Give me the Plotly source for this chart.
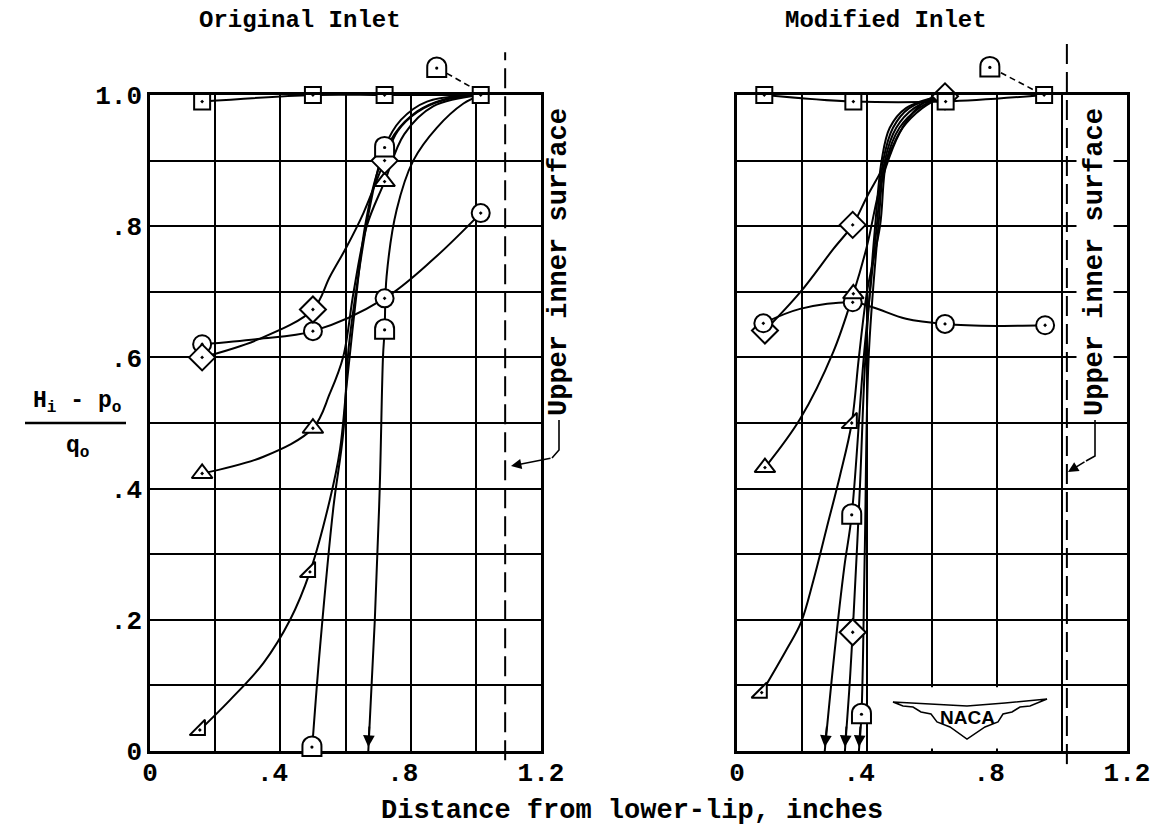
import plotly.graph_objects as go

# ---------------- data ----------------
# Original inlet (left panel) - plotted test points
L_SQ_X = [0.16, 0.50, 0.72, 1.015]
L_SQ_Y = [0.99, 1.00, 1.00, 1.00]
L_CI_X = [0.16, 0.50, 0.72, 1.015]
L_CI_Y = [0.62, 0.64, 0.69, 0.82]
L_DI_X = [0.16, 0.50, 0.72]
L_DI_Y = [0.60, 0.673, 0.90]
L_TR_X = [0.16, 0.50, 0.72]
L_TR_Y = [0.423, 0.492, 0.868]
L_TF_X = [0.153, 0.491]
L_TF_Y = [0.032, 0.273]
L_D_X = [0.497, 0.72, 0.72]
L_D_Y = [0.006, 0.92, 0.642]

# Original inlet - faired curves
L_SQ_CX = [0.16, 0.50, 0.72, 1.015]
L_SQ_CY = [0.99, 1.00, 1.00, 1.00]
L_CI_CX = [0.16, 0.33, 0.50, 0.72, 0.87, 1.015]
L_CI_CY = [0.62, 0.628, 0.64, 0.69, 0.75, 0.82]
L_DI_CX = [0.16, 0.33, 0.50, 0.552, 0.604, 0.655, 0.72, 0.76, 0.82, 0.90, 1.015]
L_DI_CY = [0.60, 0.627, 0.673, 0.723, 0.769, 0.82, 0.90, 0.945, 0.974, 0.992, 1.0]
L_TR_CX = [0.16, 0.35, 0.50, 0.552, 0.593, 0.625, 0.665, 0.72, 0.78, 0.87, 1.015]
L_TR_CY = [0.423, 0.449, 0.492, 0.545, 0.601, 0.70, 0.80, 0.868, 0.94, 0.983, 1.0]
L_TF_CX = [0.153, 0.246, 0.348, 0.43, 0.491, 0.552, 0.583, 0.604, 0.63, 0.66, 0.70, 0.75, 0.82, 0.90, 1.015]
L_TF_CY = [0.032, 0.078, 0.134, 0.20, 0.273, 0.383, 0.459, 0.56, 0.68, 0.80, 0.885, 0.94, 0.975, 0.993, 1.0]
L_D1_CX = [0.50, 0.522, 0.563, 0.593, 0.609, 0.638, 0.675, 0.72, 0.77, 0.85, 1.015]
L_D1_CY = [0.02, 0.159, 0.372, 0.484, 0.611, 0.72, 0.83, 0.92, 0.962, 0.99, 1.0]
L_D2_CX = [0.67, 0.69, 0.705, 0.715, 0.72, 0.726, 0.757, 0.808, 0.88, 0.962, 1.015]
L_D2_CY = [0.0, 0.20, 0.40, 0.60, 0.642, 0.723, 0.825, 0.90, 0.95, 0.987, 1.0]
L_DNOTE_X = [0.88, 0.911, 0.982]
L_DNOTE_Y = [1.041, 1.033, 1.013]
L_SURFACE_X = 1.09

# Modified inlet (right panel) - plotted test points
R_SQ_X = [0.084, 0.358, 0.642, 0.945]
R_SQ_Y = [1.00, 0.99, 0.99, 1.00]
R_CI_X = [0.081, 0.356, 0.64, 0.948]
R_CI_Y = [0.652, 0.684, 0.651, 0.649]
R_DI_X = [0.086, 0.356, 0.64, 0.356]
R_DI_Y = [0.641, 0.802, 0.998, 0.181]
R_TR_X = [0.086, 0.358]
R_TR_Y = [0.432, 0.697]
R_TF_X = [0.076, 0.353]
R_TF_Y = [0.089, 0.50]
R_D_X = [0.353, 0.383]
R_D_Y = [0.36, 0.056]

# Modified inlet - faired curves
R_SQ_CX = [0.084, 0.358, 0.642, 0.945]
R_SQ_CY = [1.00, 0.99, 0.99, 1.00]
R_CI_CX = [0.081, 0.194, 0.356, 0.42, 0.52, 0.64, 0.80, 0.948]
R_CI_CY = [0.652, 0.674, 0.684, 0.676, 0.659, 0.651, 0.648, 0.649]
R_DI_CX = [0.086, 0.194, 0.296, 0.356, 0.40, 0.45, 0.50, 0.552, 0.60, 0.64]
R_DI_CY = [0.641, 0.699, 0.765, 0.802, 0.845, 0.89, 0.943, 0.979, 0.996, 1.0]
R_TR_CX = [0.086, 0.194, 0.296, 0.358, 0.40, 0.435, 0.465, 0.51, 0.57, 0.64]
R_TR_CY = [0.432, 0.506, 0.608, 0.697, 0.77, 0.85, 0.90, 0.95, 0.98, 1.0]
R_TF_CX = [0.076, 0.153, 0.197, 0.235, 0.276, 0.317, 0.353, 0.375, 0.40, 0.44, 0.46, 0.50, 0.56, 0.64]
R_TF_CY = [0.089, 0.155, 0.196, 0.26, 0.34, 0.42, 0.50, 0.60, 0.70, 0.80, 0.90, 0.95, 0.98, 1.0]
R_DB_CX = [0.332, 0.345, 0.356, 0.378, 0.395, 0.425, 0.445, 0.47, 0.52, 0.64]
R_DB_CY = [0.0, 0.09, 0.181, 0.40, 0.60, 0.80, 0.90, 0.95, 0.98, 1.0]
R_D1_CX = [0.27, 0.30, 0.33, 0.353, 0.39, 0.43, 0.45, 0.48, 0.53, 0.64]
R_D1_CY = [0.0, 0.15, 0.28, 0.36, 0.60, 0.80, 0.90, 0.95, 0.98, 1.0]
R_D2_CX = [0.375, 0.383, 0.393, 0.405, 0.435, 0.455, 0.49, 0.545, 0.64]
R_D2_CY = [0.0, 0.056, 0.30, 0.60, 0.80, 0.90, 0.95, 0.98, 1.0]
R_DNOTE_X = [0.778, 0.812, 0.912]
R_DNOTE_Y = [1.042, 1.034, 1.008]
R_SURFACE_X = 1.015

X_TICKS = [0, 0.2, 0.4, 0.6, 0.8, 1.0, 1.2]
X_TEXT = ["0", "", ".4\u00a0", "", ".8\u00a0", "", "1.2"]
Y_TICKS = [0, 0.1, 0.2, 0.3, 0.4, 0.5, 0.6, 0.7, 0.8, 0.9, 1.0]
Y_TEXT = ["0", "", ".2", "", ".4", "", ".6", "", ".8", "", "1.0"]

# ---------------- geometry helpers ----------------
W, H = 1163, 831
ML, MR, MT, MB = 150, 36, 95, 80
PW = W - ML - MR
PH = H - MT - MB
PANEL_PX = [(150, 541), (737, 1127)]
XMAX = 1.2


def px_x(panel, x):
    a, b = PANEL_PX[panel]
    return a + x * (b - a) / XMAX


def pap_x(panel, x):
    return (px_x(panel, x) - ML) / PW


def pix2pap(xp, yp):
    return (xp - ML) / PW, (H - MB - yp) / PH


FONT = "Liberation Mono"
INK = "black"

fig = go.Figure()
axes = [("x", "y"), ("x2", "y2")]


def curve(panel, xs, ys, width=2.0):
    xa, ya = axes[panel]
    fig.add_trace(go.Scatter(x=xs, y=ys, mode="lines", xaxis=xa, yaxis=ya,
                             line=dict(color=INK, width=width, shape="spline", smoothing=1.0),
                             hoverinfo="skip", cliponaxis=False))


def marks(panel, xs, ys, symbol, size):
    xa, ya = axes[panel]
    fig.add_trace(go.Scatter(x=xs, y=ys, mode="markers", xaxis=xa, yaxis=ya,
                             marker=dict(symbol=symbol, size=size, color="white",
                                         line=dict(color=INK, width=2)),
                             hoverinfo="skip", cliponaxis=False))


shapes = []
annotations = []


def text_at(xp, yp, text, size, family=FONT, angle=0, bg=None):
    a, b = pix2pap(xp, yp)
    d = dict(x=a, y=b, xref="paper", yref="paper", text=text, showarrow=False,
             xanchor="center", yanchor="middle", textangle=angle,
             font=dict(family=family, size=size, color=INK, weight="bold"))
    if bg:
        d["bgcolor"] = bg
        d["borderpad"] = 3
    annotations.append(d)


def dome(panel, x, y):
    cx = pap_x(panel, x)
    hw = 9.5 / PW
    yb = y - 9 / PH
    ym = y + 1 / PH
    c = (4.0 / 3.0) * 9.5 / PH
    p = (f"M{cx-hw},{yb} L{cx-hw},{ym} C{cx-hw},{ym+c} {cx+hw},{ym+c} {cx+hw},{ym} "
         f"L{cx+hw},{yb} Z")
    shapes.append(dict(type="path", path=p, xref="paper", yref="paper",
                       fillcolor="white", line=dict(color=INK, width=2), layer="above"))
    r = 1.6
    shapes.append(dict(type="circle", xref="paper", yref="paper",
                       x0=cx - r / PW, x1=cx + r / PW, y0=y - r / PH, y1=y + r / PH,
                       fillcolor=INK, line=dict(color=INK, width=0), layer="above"))


def arrow_down(panel, xs, ys):
    xa, ya = axes[panel]
    kx = (PANEL_PX[panel][1] - PANEL_PX[panel][0]) / XMAX
    dx = (xs[1] - xs[0]) * kx
    dy = (ys[1] - ys[0]) * PH
    L = (dx * dx + dy * dy) ** 0.5
    annotations.append(dict(x=xs[0], y=ys[0] + 0.006, xref=xa, yref=ya, text="",
                            showarrow=True, arrowhead=2, arrowsize=1.3, arrowwidth=1.8,
                            arrowcolor=INK, ax=22 * dx / L, ay=-22 * dy / L, standoff=0))


# ---- left panel curves ----
curve(0, L_SQ_CX, L_SQ_CY)
curve(0, L_CI_CX, L_CI_CY)
curve(0, L_DI_CX, L_DI_CY)
curve(0, L_TR_CX, L_TR_CY)
curve(0, L_TF_CX, L_TF_CY)
curve(0, L_D1_CX, L_D1_CY)
curve(0, L_D2_CX, L_D2_CY)
arrow_down(0, L_D2_CX, L_D2_CY)

# ---- right panel curves ----
curve(1, R_SQ_CX, R_SQ_CY)
curve(1, R_CI_CX, R_CI_CY)
curve(1, R_DI_CX, R_DI_CY)
curve(1, R_TR_CX, R_TR_CY)
curve(1, R_TF_CX, R_TF_CY)
curve(1, R_DB_CX, R_DB_CY)
curve(1, R_D1_CX, R_D1_CY)
curve(1, R_D2_CX, R_D2_CY)
arrow_down(1, R_D1_CX, R_D1_CY)
arrow_down(1, R_DB_CX, R_DB_CY)
arrow_down(1, R_D2_CX, R_D2_CY)

# ---- markers ----
marks(0, L_TF_X, L_TF_Y, "triangle-se-dot", 17)
marks(0, L_TR_X, L_TR_Y, "triangle-up-dot", 18)
marks(0, L_CI_X, L_CI_Y, "circle-dot", 18)
marks(0, L_DI_X, L_DI_Y, "diamond-dot", 20)
marks(0, L_SQ_X, L_SQ_Y, "square-dot", 16)
marks(1, R_TF_X, R_TF_Y, "triangle-se-dot", 17)
marks(1, R_DI_X, R_DI_Y, "diamond-dot", 20)
marks(1, R_CI_X, R_CI_Y, "circle-dot", 18)
marks(1, R_TR_X, R_TR_Y, "triangle-up-dot", 18)
marks(1, R_SQ_X, R_SQ_Y, "square-dot", 16)

for x, y in zip(L_D_X, L_D_Y):
    dome(0, x, y)
for x, y in zip(R_D_X, R_D_Y):
    dome(1, x, y)

# "D" note above each panel with dashed leader to the (1.0, 1.0) point
for panel, nx, ny in [(0, L_DNOTE_X, L_DNOTE_Y), (1, R_DNOTE_X, R_DNOTE_Y)]:
    shapes.append(dict(type="line", xref="paper", yref="paper",
                       x0=pap_x(panel, nx[1]), y0=ny[1], x1=pap_x(panel, nx[2]), y1=ny[2],
                       line=dict(color=INK, width=1.6, dash="6px,4px")))
    dome(panel, nx[0], ny[0])

# dashed "upper inner surface" lines
for panel, sx, ytop, ybot in [(0, L_SURFACE_X, 1.065, -0.014), (1, R_SURFACE_X, 1.085, -0.02)]:
    shapes.append(dict(type="line", xref="paper", yref="paper",
                       x0=pap_x(panel, sx), x1=pap_x(panel, sx), y0=ybot, y1=ytop,
                       line=dict(color=INK, width=2, dash="20px,8px"), layer="above"))

# white box behind the NACA logo (right panel)
shapes.append(dict(type="rect", xref="x2", yref="y2", x0=0.41, x1=0.99, y0=0.004, y1=0.097,
                   fillcolor="white", line=dict(width=0), layer="between"))


def P(xp, yp):
    a, b = pix2pap(xp, yp)
    return f"{a:.5f},{b:.5f}"


# NACA wing outline (decoration)
wing_pts = [(893, 702), (930, 704), (967, 706), (1005, 703), (1047, 699),
            (1030, 706), (1020, 707), (1012, 712), (1003, 714), (998, 722), (985, 727),
            (967, 739), (950, 727), (937, 722), (931, 714), (921, 712), (913, 707), (903, 706)]
wing = "M" + " L".join(P(a, b) for a, b in wing_pts) + " Z"
shapes.append(dict(type="path", path=wing, xref="paper", yref="paper",
                   line=dict(color=INK, width=1.5), fillcolor="white", layer="above"))
text_at(967, 717, "NACA", 19, family="Liberation Sans")

# "Upper inner surface" labels (rotated)
text_at(559, 262, "Upper inner surface", 27, angle=-90)
text_at(1095, 262, "Upper inner surface", 27, angle=-90, bg="white")

# leaders + arrowheads to the dashed lines
shapes.append(dict(type="path", path=f"M{P(559,420)} L{P(559,450)} L{P(552,458)}",
                   xref="paper", yref="paper", line=dict(color=INK, width=1.6)))
tx, ty = pix2pap(511, 466)
annotations.append(dict(x=tx, y=ty, xref="paper", yref="paper", text="", showarrow=True,
                        arrowhead=2, arrowsize=1.3, arrowwidth=1.6, arrowcolor=INK,
                        ax=41, ay=-8, standoff=0))
shapes.append(dict(type="path", path=f"M{P(1095,420)} L{P(1095,456)} L{P(1086,461)}",
                   xref="paper", yref="paper", line=dict(color=INK, width=1.6)))
tx, ty = pix2pap(1068, 472)
annotations.append(dict(x=tx, y=ty, xref="paper", yref="paper", text="", showarrow=True,
                        arrowhead=2, arrowsize=1.3, arrowwidth=1.6, arrowcolor=INK,
                        ax=18, ay=-11, standoff=0))

# titles
text_at(300, 20, "Original Inlet", 24)
text_at(886, 20, "Modified Inlet", 24)
text_at(632, 811, "Distance from lower-lip, inches", 27)

# y-axis title as a fraction
text_at(77, 402, "H<sub>i</sub> - p<sub>o</sub>", 23)
text_at(77, 447, "q<sub>o</sub>", 23)
l0 = pix2pap(25, 423)
l1 = pix2pap(126, 423)
shapes.append(dict(type="line", xref="paper", yref="paper", x0=l0[0], y0=l0[1], x1=l1[0], y1=l1[1],
                   line=dict(color=INK, width=2.5)))

axis_common = dict(range=[0, XMAX], tickvals=X_TICKS, ticktext=X_TEXT, showgrid=True,
                   gridcolor=INK, gridwidth=2, showline=True, mirror=True, linecolor=INK,
                   linewidth=2.5, zeroline=False, ticks="", ticklabelstandoff=-4,
                   tickfont=dict(family=FONT, size=26, color=INK, weight="bold"))
yaxis_common = dict(range=[0, 1.0], tickvals=Y_TICKS, ticktext=Y_TEXT, showgrid=True,
                    gridcolor=INK, gridwidth=2, showline=True, mirror=True, linecolor=INK,
                    linewidth=2.5, zeroline=False, ticks="", ticklabelstandoff=0,
                    tickfont=dict(family=FONT, size=26, color=INK, weight="bold"),
                    domain=[0, 1])

d0 = (PANEL_PX[0][1] - ML) / PW
d1 = (PANEL_PX[1][0] - ML) / PW
fig.update_layout(
    width=W, height=H,
    margin=dict(l=ML, r=MR, t=MT, b=MB),
    paper_bgcolor="white", plot_bgcolor="white",
    showlegend=False,
    xaxis=dict(axis_common, domain=[0, d0], anchor="y"),
    xaxis2=dict(axis_common, domain=[d1, 1], anchor="y2"),
    yaxis=dict(yaxis_common, anchor="x"),
    yaxis2=dict(yaxis_common, anchor="x2", showticklabels=False),
    shapes=shapes,
    annotations=annotations,
    font=dict(family=FONT, color=INK),
)

fig.write_html("out.html")
